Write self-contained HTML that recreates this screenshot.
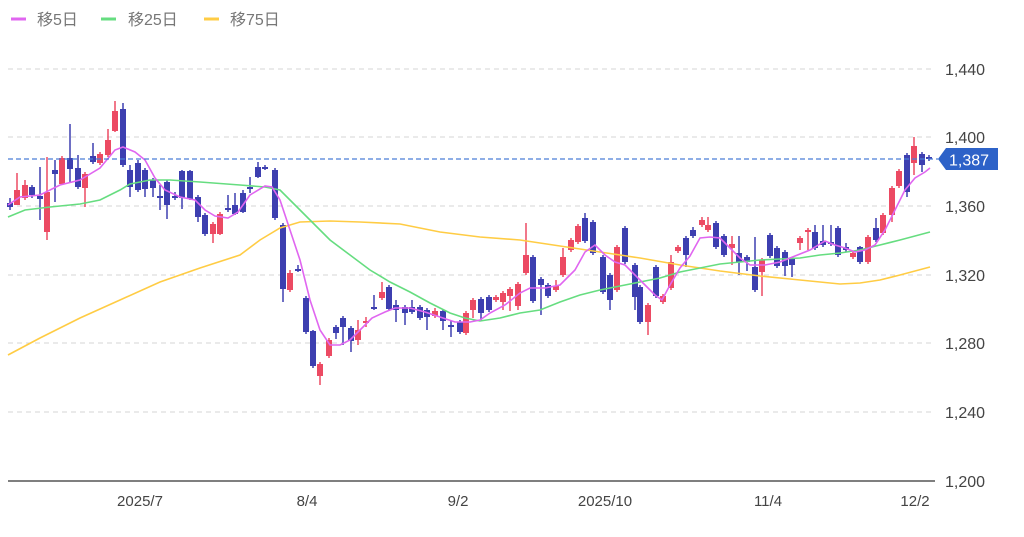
<!DOCTYPE html>
<html><head><meta charset="utf-8"><style>
html,body{margin:0;padding:0;background:#fff;width:1024px;height:537px;overflow:hidden}
svg{display:block;font-family:"Liberation Sans","Noto Sans CJK JP",sans-serif}
</style></head><body>
<svg id="s" width="1024" height="537" xmlns="http://www.w3.org/2000/svg">
<g stroke="#d6d6d6" stroke-width="1" stroke-dasharray="5,4">
<line x1="8" y1="69" x2="935" y2="69"/><line x1="8" y1="137" x2="935" y2="137"/>
<line x1="8" y1="206" x2="935" y2="206"/><line x1="8" y1="275" x2="935" y2="275"/>
<line x1="8" y1="343" x2="935" y2="343"/><line x1="8" y1="412" x2="935" y2="412"/>
</g>
<line x1="8" y1="481" x2="935" y2="481" stroke="#555" stroke-width="1.5"/>
<g font-size="16" fill="#444">
<text x="945" y="75">1,440</text><text x="945" y="143">1,400</text><text x="945" y="212">1,360</text>
<text x="945" y="281">1,320</text><text x="945" y="349">1,280</text><text x="945" y="418">1,240</text>
<text x="945" y="487">1,200</text>
</g>
<g font-size="15" fill="#444" text-anchor="middle">
<text x="140" y="506">2025/7</text><text x="307" y="506">8/4</text><text x="458" y="506">9/2</text>
<text x="605" y="506">2025/10</text><text x="768" y="506">11/4</text><text x="915" y="506">12/2</text>
</g>
<g font-size="16" fill="#777">
<line x1="11" y1="19" x2="26" y2="19" stroke="#e066f0" stroke-width="3"/><text x="37" y="25">移5日</text>
<line x1="101" y1="19" x2="116" y2="19" stroke="#66dd80" stroke-width="3"/><text x="128" y="25">移25日</text>
<line x1="204" y1="19" x2="219" y2="19" stroke="#ffcc44" stroke-width="3"/><text x="230" y="25">移75日</text>
</g>
<g id="c"></g>
<g id="m" fill="none" stroke-width="1.6"></g>
<line x1="8" y1="159" x2="938" y2="159" stroke="#4a7ed6" stroke-width="1.2" stroke-dasharray="5,3"/>
<polygon points="938,159 946,148 998,148 998,170 946,170" fill="#2d62c8"/>
<text x="949" y="165.5" font-size="16" fill="#fff">1,387</text>
</svg>
<script>
var C=[
[10,'b',203,207,198,210],[17,'r',190,205,173,205],[25,'r',185,198,180,200],[32,'b',187,195,185,198],[40,'b',196,199,167,220],
[47,'r',192,232,157,240],[55,'b',170,174,160,202],[62,'r',158,184,156,185],[70,'b',158,169,124,182],[78,'b',168,187,155,189],
[85,'r',174,188,172,207],[93,'b',156,162,143,164],[100,'r',154,163,152,165],[108,'r',140,155,129,157],[115,'r',111,131,101,132],
[123,'b',109,165,103,167],[130,'b',170,187,165,197],[138,'b',163,190,160,192],[145,'b',170,189,168,197],[153,'b',180,188,178,197],
[160,'b',196,198,185,210],[167,'b',182,205,180,219],[175,'b',196,198,192,200],[182,'b',171,198,170,209],[190,'b',171,199,170,200],
[198,'b',197,217,195,222],[205,'b',215,234,213,236],[213,'r',224,234,222,243],[220,'r',214,234,212,235],[228,'b',208,210,195,212],
[235,'b',205,214,193,215],[243,'b',193,212,190,213],[250,'b',187,189,177,193],[258,'b',167,177,162,178],[265,'b',167,169,165,170],
[275,'b',170,218,168,220],[283,'b',225,289,223,302],[290,'r',273,290,270,292],[298,'b',269,271,265,272],[306,'b',298,332,296,334],
[313,'b',331,366,330,368],[320,'r',364,376,362,385],[329,'r',340,356,338,358],[336,'b',327,333,325,339],[343,'b',318,327,316,345],
[351,'b',328,341,326,352],[358,'r',330,340,320,345],[366,'r',321,323,317,327],[374,'b',307,309,295,310],[382,'r',292,298,282,300],
[389,'b',287,309,285,311],[396,'b',305,310,300,322],[405,'b',307,313,305,325],[412,'b',307,312,300,314],[420,'b',307,318,305,320],
[427,'b',310,317,308,330],[435,'r',311,316,308,318],[443,'b',311,321,309,330],[451,'b',325,327,321,337],[460,'b',322,332,320,334],
[466,'r',313,333,311,335],[473,'r',300,310,298,318],[481,'b',299,313,297,321],[489,'b',297,310,295,312],[496,'r',297,300,295,302],
[503,'r',293,302,291,310],[510,'r',289,296,287,311],[518,'r',284,306,282,310],[526,'r',255,273,223,275],[533,'b',257,301,255,303],
[541,'b',279,285,277,315],[548,'b',285,296,283,298],[556,'r',286,290,280,292],[563,'r',257,275,248,277],[571,'r',240,250,238,252],
[578,'r',226,242,224,244],[585,'b',218,241,213,243],[593,'b',222,253,220,255],[603,'b',257,292,255,294],[610,'b',275,300,273,310],
[617,'r',247,290,245,292],[625,'b',228,262,226,264],[635,'b',265,297,263,310],[640,'b',287,322,285,324],[648,'r',305,322,303,335],
[656,'b',267,296,265,298],[663,'r',296,302,294,304],[671,'r',262,288,255,290],[678,'r',247,251,245,253],[686,'b',238,255,236,267],
[693,'b',230,236,227,238],[702,'r',220,225,217,227],[708,'r',225,230,217,232],[716,'b',223,247,221,249],[724,'b',236,255,234,257],
[732,'r',244,248,236,265],[739,'b',253,262,236,275],[747,'b',257,262,255,271],[755,'b',267,290,237,292],[762,'r',260,272,258,296],
[770,'b',235,256,233,258],[777,'b',248,266,246,268],[785,'b',252,266,250,276],[792,'b',259,265,257,277],[800,'r',238,243,236,250],
[808,'r',230,232,228,250],[815,'b',232,248,225,250],[823,'b',241,245,225,247],[831,'b',242,244,225,246],[838,'b',228,255,226,257],
[846,'b',247,250,243,252],[853,'r',253,257,251,259],[860,'b',247,262,246,264],[868,'r',237,262,235,264],[876,'b',228,240,218,242],
[883,'r',215,233,213,235],[892,'r',188,215,186,222],[899,'r',171,186,169,188],[907,'b',155,192,153,197],[914,'r',146,163,137,175],
[922,'b',154,165,152,172],[929,'b',157,159,155,161]];
var h='';C.forEach(function(c){var col=c[1]=='r'?'#ec4a63':'#3d3fb0';
h+='<line x1="'+c[0]+'" x2="'+c[0]+'" y1="'+c[4]+'" y2="'+c[5]+'" stroke="'+col+'" stroke-width="1.5"/>';
var bh=Math.max(c[3]-c[2],2);h+='<rect x="'+(c[0]-3)+'" y="'+c[2]+'" width="6" height="'+bh+'" fill="'+col+'"/>';});
document.getElementById('c').innerHTML=h;
var M5="8,205 20,197 40,195 60,185 80,180 100,168 115,150 123,147 135,152 145,160 155,178 165,190 180,197 195,200 205,210 215,216 228,218 238,212 250,195 265,186 272,187 280,200 290,230 300,260 310,300 320,330 330,345 340,345 350,340 360,330 372,318 385,312 395,308 410,308 425,312 440,317 455,322 470,322 480,320 490,313 505,305 520,293 530,288 545,288 560,285 575,270 585,252 595,245 605,255 615,262 625,265 640,280 655,295 662,300 670,285 680,268 690,256 700,238 710,237 720,238 730,248 740,258 750,265 765,265 780,262 795,256 810,250 825,241 835,245 845,248 855,252 865,250 875,245 885,230 895,210 905,190 915,178 925,172 930,168";
var M25="8,217 25,210 50,207 80,204 100,200 120,190 130,184 150,180 170,180 200,182 240,185 265,187 280,190 295,205 310,220 330,240 350,255 370,270 390,282 410,292 430,303 450,313 465,318 480,321 500,318 520,313 540,310 560,302 580,295 600,290 620,286 640,282 660,278 680,272 700,268 720,264 740,262 760,260 780,259 800,258 820,255 840,253 860,250 880,245 900,240 930,232";
var M75="8,355 40,338 80,318 120,300 160,282 200,268 240,255 260,240 280,228 300,222 330,221 360,222 400,224 440,232 480,237 520,240 560,246 600,252 620,255 640,258 680,265 720,271 760,276 800,280 840,284 860,283 880,280 900,275 930,267";
document.getElementById('m').innerHTML='<polyline points="'+M75+'" stroke="#ffcc44"/><polyline points="'+M25+'" stroke="#66dd80"/><polyline points="'+M5+'" stroke="#e066f0"/>';
</script>
</body></html>
